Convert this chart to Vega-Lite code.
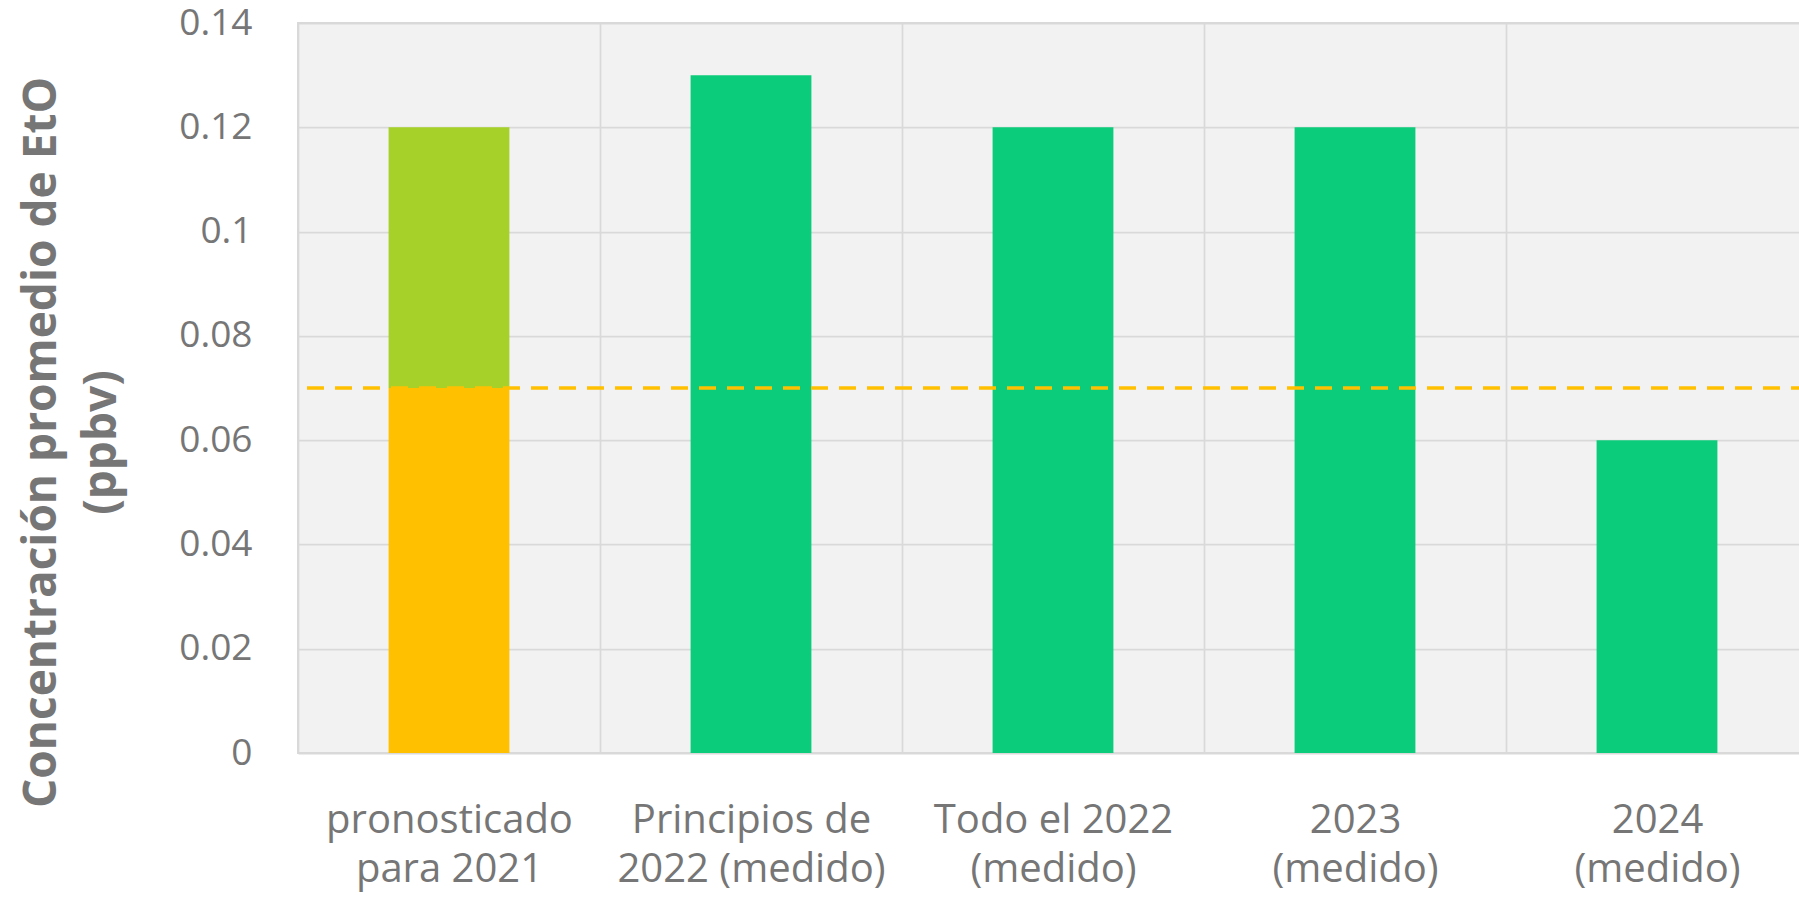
{
  "$schema": "https://vega.github.io/schema/vega-lite/v6.json",
  "width": 1510,
  "height": 730,
  "autosize": {"type": "none"},
  "padding": {"left": 298, "top": 23, "right": -9, "bottom": 145},
  "background": "white",
  "config": {
    "view": {"fill": "#f2f2f2", "stroke": "#d9d9d9", "strokeWidth": 2},
    "font": "Open Sans"
  },
  "datasets": {
    "barras": [
      {"categoria": "pronosticado|para 2021", "serie": "pronosticado (hasta el límite)", "orden": 1, "valor": 0.07},
      {"categoria": "pronosticado|para 2021", "serie": "pronosticado (exceso)", "orden": 2, "valor": 0.05},
      {"categoria": "Principios de|2022 (medido)", "serie": "medido", "orden": 1, "valor": 0.13},
      {"categoria": "Todo el 2022|(medido)", "serie": "medido", "orden": 1, "valor": 0.12},
      {"categoria": "2023|(medido)", "serie": "medido", "orden": 1, "valor": 0.12},
      {"categoria": "2024|(medido)", "serie": "medido", "orden": 1, "valor": 0.06}
    ],
    "limite": [{"limite": 0.07}]
  },
  "layer": [
    {
      "data": {"name": "barras"},
      "mark": {"type": "bar", "width": {"band": 0.4}},
      "encoding": {
        "x": {
          "field": "categoria",
          "type": "nominal",
          "sort": null,
          "scale": {"paddingInner": 0, "paddingOuter": 0},
          "axis": {
            "title": null,
            "labelAngle": 0,
            "labelExpr": "isString(datum.value) ? split(datum.value, '|') : ''",
            "labelFont": "Open Sans",
            "labelFontSize": 40,
            "labelColor": "#767676",
            "labelBaseline": "alphabetic",
            "labelPadding": 79,
            "labelLineHeight": 49,
            "labelLimit": 0,
            "labelOverlap": false,
            "labelBound": false,
            "labelFlush": false,
            "ticks": false,
            "domain": false,
            "grid": true,
            "tickBand": "extent",
            "gridColor": "#d9d9d9",
            "gridWidth": 1.75
          }
        },
        "y": {
          "field": "valor",
          "type": "quantitative",
          "stack": "zero",
          "scale": {"domain": [0, 0.14], "nice": false},
          "axis": {
            "title": ["Concentración promedio de EtO", "(ppbv)"],
            "titleFont": "Open Sans",
            "titleFontSize": 46,
            "titleFontWeight": "bold",
            "titleColor": "#767676",
            "titleLineHeight": 60,
            "titleAngle": 270,
            "titleAlign": "center",
            "titleBaseline": "alphabetic",
            "titleX": -243,
            "titleY": 419,
            "titleLimit": 0,
            "values": [0, 0.02, 0.04, 0.06, 0.08, 0.1, 0.12, 0.14],
            "labelExpr": "format(datum.value, '~g')",
            "labelFont": "Open Sans",
            "labelFontSize": 37,
            "labelColor": "#767676",
            "labelPadding": 46,
            "labelBaseline": "middle",
            "labelFlush": false,
            "labelOverlap": false,
            "ticks": false,
            "domain": false,
            "grid": true,
            "gridColor": "#d9d9d9",
            "gridWidth": 1.75
          }
        },
        "color": {
          "field": "serie",
          "type": "nominal",
          "scale": {
            "domain": ["pronosticado (hasta el límite)", "pronosticado (exceso)", "medido"],
            "range": ["#FFC000", "#A6D129", "#0BCC7A"]
          },
          "legend": null
        },
        "order": {"field": "orden", "type": "quantitative"}
      }
    },
    {
      "data": {"name": "limite"},
      "mark": {"type": "rule", "color": "#FFC000", "strokeWidth": 3.5, "strokeDash": [17, 11]},
      "encoding": {
        "y": {"field": "limite", "type": "quantitative"}
      }
    }
  ]
}
